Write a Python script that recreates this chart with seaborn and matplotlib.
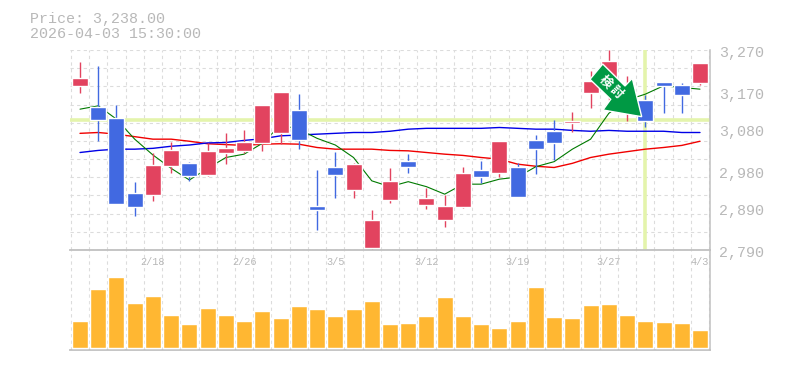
import matplotlib
matplotlib.use("Agg")
import matplotlib.pyplot as plt
import matplotlib.transforms as mtrans
from matplotlib.patches import Polygon
import numpy as np
import pandas as pd
import seaborn as sns

opens = [3184, 3133, 3107, 2927, 2922, 2992, 2999, 2970, 3023, 3028, 3047, 3071,
         3126, 2896, 2989, 2934, 2795, 2910, 3004, 2898, 2862, 2893, 2982, 2975,
         2989, 3054, 3076, 3095, 3167, 3184, 3135, 3150, 3193, 3186, 3191]
highs = [3241, 3232, 3138, 2953, 3024, 3049, 3001, 3047, 3071, 3078, 3138, 3169,
         3164, 2982, 3025, 2998, 2886, 2987, 3020, 2939, 2922, 2989, 3004, 3052,
         2998, 3066, 3102, 3121, 3220, 3270, 3208, 3162, 3194, 3191, 3239]
lows = [3168, 3052, 2900, 2872, 2908, 2975, 2956, 2968, 2996, 3022, 3028, 3044,
        3032, 2838, 2915, 2915, 2790, 2903, 2975, 2888, 2845, 2891, 2951, 2965,
        2917, 2972, 3006, 3073, 3131, 3150, 3100, 3085, 3119, 3119, 3186]
closes = [3203, 3102, 2900, 2893, 2994, 3030, 2968, 3028, 3035, 3049, 3138, 3169,
          3054, 2886, 2970, 2996, 2862, 2956, 2989, 2915, 2896, 2975, 2965, 3052,
          2917, 3032, 3047, 3100, 3196, 3244, 3180, 3100, 3184, 3162, 3238]
ma_short = [3128, 3136, 3104, 3056, 3018, 2986, 2958, 2986, 3012, 3020, 3046, 3090,
            3080, 3058, 3042, 3012, 2956, 2942, 2954, 2942, 2924, 2948, 2948, 2960,
            2965, 2990, 3002, 3032, 3056, 3118, 3150, 3164, 3184, 3180, 3176]
ma_mid = [3024, 3029, 3032, 3032, 3034, 3039, 3042, 3047, 3048, 3053, 3057, 3064,
          3066, 3068, 3070, 3072, 3072, 3075, 3080, 3082, 3082, 3082, 3082, 3084,
          3082, 3080, 3080, 3077, 3075, 3077, 3075, 3075, 3075, 3072, 3072]
ma_long = [3070, 3072, 3068, 3062, 3056, 3056, 3051, 3045, 3043, 3041, 3044, 3045,
           3044, 3036, 3032, 3032, 3032, 3029, 3028, 3024, 3020, 3017, 3012, 3008,
           2996, 2991, 2988, 2998, 3012, 3020, 3026, 3032, 3036, 3041, 3051]
volume = [27, 59, 71, 45, 52, 33, 24, 40, 33, 27, 37, 30, 42, 39, 32, 39, 47, 24,
          25, 32, 51, 32, 24, 20, 27, 61, 31, 30, 43, 44, 33, 27, 26, 25, 18]
date_labels = ["2/18", "2/26", "3/5", "3/12", "3/19", "3/27", "4/3"]
date_days = [4, 9, 14, 19, 24, 29, 34]
price_labels = [3270, 3170, 3080, 2980, 2890, 2790]
level_price = 3102
marker_day = 31
info_lines = ["Price: 3,238.00", "2026-04-03 15:30:00"]
arrow_text = "検討"

RED, BLUE, GOLD = "#E2435F", "#4169E1", "#FFB732"
HILITE, GRID, AXIS, TEXT = "#E4F4AC", "#DCDCDC", "#C0C0C0", "#B8B8B8"
MONO = "Liberation Mono"

sns.set_theme(style="white")
W, H = 785, 370
fig = plt.figure(figsize=(W / 100, H / 100), dpi=100, facecolor="white")
ax = fig.add_axes([70 / W, (H - 250) / H, 640 / W, 200 / H])
vol = fig.add_axes([70 / W, (H - 350) / H, 640 / W, 100 / H])
days = np.arange(len(opens))
XLIM = (-10 / 18.235, 34 + 10 / 18.235)
dash = (0, (3, 3))
PX = 0.72

# price panel
ax.set_ylim(2790, 3270)
ax.set_yticks(np.linspace(2790, 3270, 12))
ax.set_xticks(np.arange(36) - 0.5)
ax.grid(True, color=GRID, lw=PX * 1.1, linestyle=dash)
ax.set_axisbelow(True)
ax.axhline(level_price, color=HILITE, lw=2.6, zorder=1)
ax.axvline(marker_day, color=HILITE, lw=2.6, zorder=1)
frame = pd.DataFrame({"day": days, "short": ma_short, "mid": ma_mid, "long": ma_long})
for col, color, lw in (("long", "#F00000", 1.0), ("mid", "#0000E6", 1.0), ("short", "#007A00", 0.8)):
    sns.lineplot(data=frame, x="day", y=col, color=color, lw=lw, ax=ax, zorder=2, errorbar=None)
o, c = np.array(opens), np.array(closes)
cols = [RED if a >= b else BLUE for a, b in zip(c, o)]
ax.vlines(days, lows, highs, colors=cols, lw=1.0, zorder=3)
ax.bar(days, np.abs(c - o), bottom=np.minimum(o, c), width=0.877, color=cols, zorder=4)

# volume panel
sns.barplot(x=days, y=volume, native_scale=True, color=GOLD, saturation=1, width=0.877,
            ax=vol, zorder=3, errorbar=None)
vol.set_ylim(-2, 98)
vol.set_xticks(np.arange(36) - 0.5)
vol.set_yticks([])
vol.grid(True, axis="x", color=GRID, lw=PX * 1.1, linestyle=dash)
vol.set_axisbelow(True)

for a in (ax, vol):
    a.set_xlim(*XLIM)
    a.set_xlabel("")
    a.set_ylabel("")
    a.tick_params(length=0, labelbottom=False, labelleft=False)
    a.set_facecolor("none")
    for s in a.spines.values():
        s.set_visible(False)
    a.spines["right"].set_visible(True)
    a.spines["right"].set_color(AXIS)
    a.spines["right"].set_linewidth(1.1)
vol.spines["top"].set_visible(True)
vol.spines["bottom"].set_visible(True)
for s in ("top", "bottom"):
    vol.spines[s].set_color(AXIS)
    vol.spines[s].set_linewidth(1.3)

# labels
label_tf = mtrans.offset_copy(ax.get_yaxis_transform(), fig=fig, x=9, y=-3, units="dots")
for p in price_labels:
    ax.text(1, p, f"{p:,}", transform=label_tf, family=MONO, fontsize=10.8, color=TEXT,
            ha="left", va="center", clip_on=False)
for d, t in zip(date_days, date_labels):
    vol.text(d, 0.88, t, transform=vol.get_xaxis_transform(), family=MONO, fontsize=7.4,
             color=TEXT, ha="center", va="center")

px = mtrans.Affine2D().scale(1, -1).translate(0, H)
for t, y in zip(info_lines, (23, 38)):
    fig.text(30, y, t, transform=px, family=MONO, fontsize=10.8, color=TEXT, va="baseline", ha="left")

# marker arrow
arrow_px = [(602.7, 64), (590, 79.3), (610.7, 99.3), (603, 110), (641.7, 116.7), (632.3, 78.3), (625, 86)]
fig.add_artist(Polygon(arrow_px, closed=True, transform=px, facecolor="#009944",
                       edgecolor="white", lw=1.0, joinstyle="miter", zorder=10))
for ch, (x, y) in zip(arrow_text, ((605.7, 81.7), (616.7, 92.7))):
    t = fig.text(x, y, ch, transform=px, family=["Noto Sans CJK JP", "DejaVu Sans"], fontsize=9,
                 fontweight="bold", color="white", rotation=-45, ha="center", va="center",
                 rotation_mode="anchor", zorder=11)

fig.savefig("out.png", dpi=100, facecolor="white")
